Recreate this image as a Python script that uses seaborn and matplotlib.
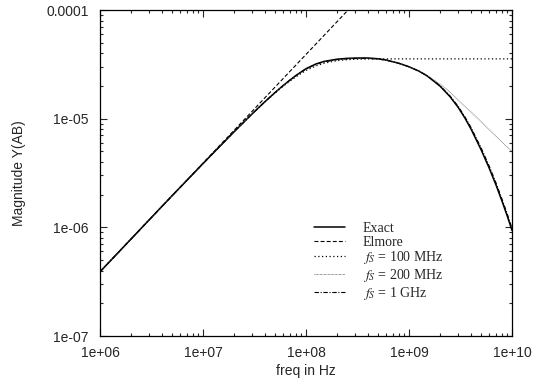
import matplotlib
matplotlib.use("Agg")
import matplotlib.pyplot as plt
import seaborn as sns

# frequencies (Hz) shared by the computed curves
freq = [1e6, 2e6, 5e6, 1e7, 2e7, 3e7, 4e7, 5e7, 6e7, 7e7, 8e7, 1e8, 1.25e8,
        1.5e8, 2e8, 2.5e8, 3e8, 4e8, 5e8, 6e8, 8e8, 1e9, 1.25e9, 1.5e9, 2e9,
        2.5e9, 3e9, 3.5e9, 4e9, 5e9, 6e9, 7e9, 8e9, 9e9, 1e10]

exact = [3.9e-7, 7.8e-7, 1.95e-6, 3.86e-6, 7.57e-6, 1.107e-5, 1.435e-5, 1.738e-5,
         2.018e-5, 2.27e-5, 2.5e-5, 2.884e-5, 3.189e-5, 3.367e-5, 3.526e-5,
         3.59e-5, 3.613e-5, 3.618e-5, 3.56e-5, 3.465e-5, 3.234e-5, 3.005e-5,
         2.736e-5, 2.475e-5, 1.994e-5, 1.595e-5, 1.271e-5, 1.008e-5, 8.03e-6,
         5.2e-6, 3.515e-6, 2.445e-6, 1.74e-6, 1.267e-6, 9.37e-7]

fs_100m = [3.9e-7, 7.8e-7, 1.95e-6, 3.86e-6, 7.57e-6, 1.107e-5, 1.43e-5, 1.72e-5,
           1.99e-5, 2.22e-5, 2.43e-5, 2.78e-5, 3.06e-5, 3.24e-5, 3.42e-5,
           3.49e-5, 3.52e-5, 3.54e-5, 3.55e-5, 3.55e-5, 3.55e-5, 3.55e-5,
           3.55e-5, 3.55e-5, 3.55e-5, 3.55e-5, 3.55e-5, 3.55e-5, 3.55e-5,
           3.55e-5, 3.55e-5, 3.55e-5, 3.55e-5, 3.55e-5, 3.55e-5]

fs_200m = [3.9e-7, 7.8e-7, 1.95e-6, 3.86e-6, 7.57e-6, 1.107e-5, 1.435e-5, 1.738e-5,
           2.01e-5, 2.25e-5, 2.47e-5, 2.84e-5, 3.13e-5, 3.31e-5, 3.47e-5,
           3.54e-5, 3.57e-5, 3.58e-5, 3.53e-5, 3.44e-5, 3.22e-5, 3.0e-5,
           2.75e-5, 2.5e-5, 2.08e-5, 1.76e-5, 1.48e-5, 1.29e-5, 1.15e-5,
           9.4e-6, 7.95e-6, 6.9e-6, 6.1e-6, 5.47e-6, 4.97e-6]

fs_1g = [3.9e-7, 7.8e-7, 1.95e-6, 3.86e-6, 7.57e-6, 1.107e-5, 1.435e-5, 1.738e-5,
         2.018e-5, 2.27e-5, 2.49e-5, 2.87e-5, 3.17e-5, 3.34e-5, 3.5e-5,
         3.56e-5, 3.58e-5, 3.59e-5, 3.54e-5, 3.45e-5, 3.22e-5, 3.0e-5,
         2.74e-5, 2.48e-5, 2.01e-5, 1.62e-5, 1.3e-5, 1.035e-5, 8.3e-6,
         5.42e-6, 3.68e-6, 2.56e-6, 1.82e-6, 1.33e-6, 9.8e-7]

# Elmore approximation is a straight line in log-log
elmore_freq = [1e6, 1e10]
elmore = [3.9e-7, 3.9e-3]

x_ticks = [1e6, 1e7, 1e8, 1e9, 1e10]
x_tick_labels = ["1e+06", "1e+07", "1e+08", "1e+09", "1e+10"]
y_ticks = [1e-7, 1e-6, 1e-5, 1e-4]
y_tick_labels = ["1e-07", "1e-06", "1e-05", "0.0001"]

sns.set_style("ticks")
plt.rcParams["font.family"] = ["Liberation Sans", "DejaVu Sans"]
plt.rcParams["mathtext.fontset"] = "stix"

fig = plt.figure(figsize=(5.38, 3.79), dpi=100)
ax = fig.add_axes([100 / 538, 1 - 336 / 379, 412 / 538, 326 / 379])

series = [
    (freq, exact, "Exact", dict(color="black", lw=1.1, linestyle="-")),
    (elmore_freq, elmore, "Elmore", dict(color="black", lw=0.8, dashes=(3.5, 2))),
    (freq, fs_100m, r"$f_S$ = 100 MHz", dict(color="black", lw=0.9, dashes=(1, 2))),
    (freq, fs_200m, r"$f_S$ = 200 MHz", dict(color="0.35", lw=0.7, dashes=(0.6, 0.8))),
    (freq, fs_1g, r"$f_S$ = 1 GHz", dict(color="black", lw=0.8, dashes=(4, 1.5, 1, 1.5))),
]

for x, y, label, style in series:
    sns.lineplot(x=x, y=y, label=label, ax=ax, **style)

ax.set_xscale("log")
ax.set_yscale("log")
ax.set_xlim(1e6, 1e10)
ax.set_ylim(1e-7, 1e-4)
ax.set_xticks(x_ticks)
ax.set_xticklabels(x_tick_labels)
ax.set_yticks(y_ticks)
ax.set_yticklabels(y_tick_labels)
ax.tick_params(which="both", direction="in", top=True, right=True,
               labelsize=10, width=0.8)
ax.tick_params(which="major", length=5)
ax.tick_params(which="minor", length=2.5)
ax.tick_params(axis="x", which="major", pad=7)
ax.tick_params(axis="y", which="major", pad=8)
for spine in ax.spines.values():
    spine.set_linewidth(0.9)
    spine.set_color("black")

ax.set_xlabel("freq in Hz", fontsize=10, labelpad=3)
ax.set_ylabel("Magnitude Y(AB)", fontsize=10, labelpad=15)

ax.legend(
    loc="upper left",
    bbox_to_anchor=(0.52, 0.35),
    frameon=False,
    prop={"family": "Liberation Serif", "size": 10},
    handlelength=2.2,
    handletextpad=1.3,
    labelspacing=0.05,
    borderpad=0,
    borderaxespad=0,
)

fig.savefig("out.png", dpi=100)
